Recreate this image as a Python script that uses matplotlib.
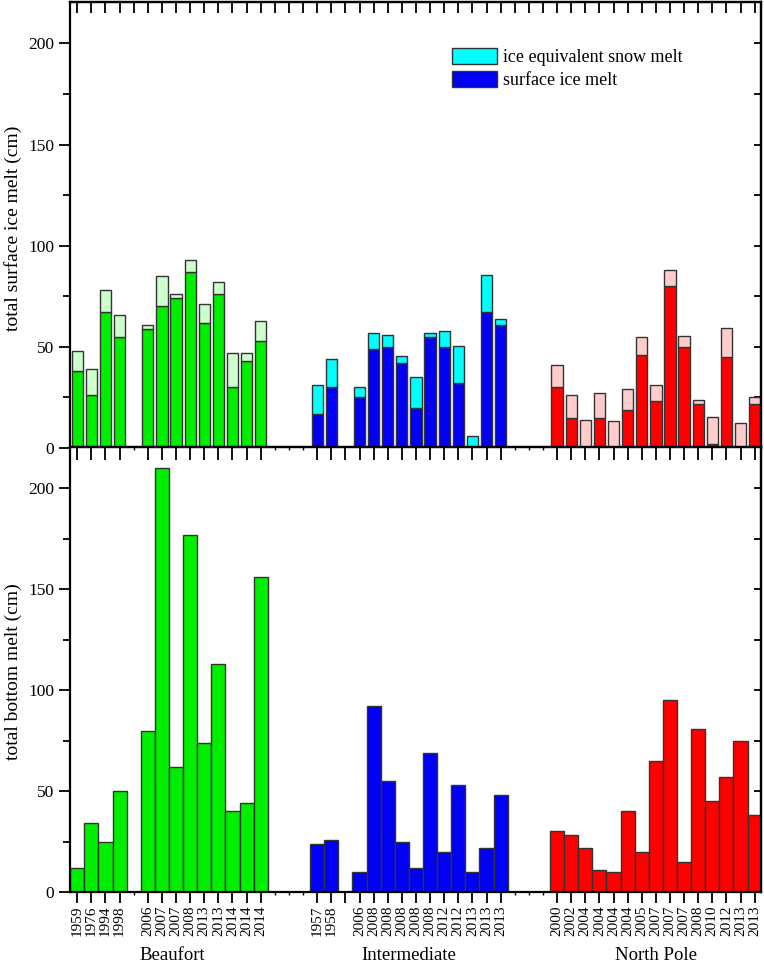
import matplotlib
matplotlib.use("Agg")
import matplotlib.pyplot as plt
from matplotlib.patches import Patch
import numpy as np

plt.rcParams['font.family'] = ['Liberation Serif', 'DejaVu Serif']

# ---------------- data ----------------
groups = ["Beaufort", "Intermediate", "North Pole"]

beaufort_years = ["1959", "1976", "1994", "1998", "2006", "2007", "2007", "2008",
                  "2013", "2013", "2014", "2014", "2014"]
beaufort_ice = [38, 26, 67, 55, 59, 70, 74, 87, 62, 76, 30, 43, 53]
beaufort_snow = [10, 13, 11, 11, 2, 15, 2, 6, 9, 6, 17, 4, 10]
beaufort_bottom = [12, 34, 25, 50, 80, 210, 62, 177, 74, 113, 40, 44, 156]

inter_years = ["1957", "1958", "2006", "2008", "2008", "2008", "2008", "2008",
               "2012", "2012", "2013", "2013", "2013"]
inter_ice = [17, 30, 25, 49, 50, 42, 20, 55, 50, 32, 0, 67, 61]
inter_snow = [14, 14, 5, 8, 6, 3.5, 15, 2, 8, 18.5, 6, 18.5, 3]
inter_bottom = [24, 26, 10, 92, 55, 25, 12, 69, 20, 53, 10, 22, 48]

np_years = ["2000", "2002", "2004", "2004", "2004", "2004", "2005", "2007",
            "2007", "2007", "2008", "2010", "2012", "2013", "2013"]
np_ice = [30, 15, 0, 15, 0, 19, 46, 23, 80, 50, 22, 2, 45, 0, 22]
np_snow = [11, 11, 14, 12, 13.5, 10, 9, 8, 8, 5.5, 1.5, 13.5, 14.5, 12.5, 3]
np_bottom = [30, 28, 22, 11, 10, 40, 20, 65, 95, 15, 81, 45, 57, 75, 38]

legend_labels = ["ice equivalent snow melt", "surface ice melt"]
ylabel_top = "total surface ice melt (cm)"
ylabel_bottom = "total bottom melt (cm)"

# ---------------- layout (slot positions along the category axis) ----------------
beaufort_pos = [0, 1, 2, 3] + list(range(5, 14))
inter_pos = [17, 18] + list(range(20, 31))
np_pos = list(range(34, 49))
blank_major = [19]
minor_gaps = [4, 14, 15, 16, 31, 32, 33]

colors = {
    "Beaufort": ("#00EE00", "#CCFFCC"),
    "Intermediate": ("#0000F5", "#00FFFF"),
    "North Pole": ("#FF0000", "#FFCCCC"),
}

series = [
    ("Beaufort", beaufort_pos, beaufort_years, beaufort_ice, beaufort_snow, beaufort_bottom),
    ("Intermediate", inter_pos, inter_years, inter_ice, inter_snow, inter_bottom),
    ("North Pole", np_pos, np_years, np_ice, np_snow, np_bottom),
]

W, H = 764, 966
fig = plt.figure(figsize=(W / 100, H / 100), dpi=100)
left = 69.5 / W
width = (761 - 69.5) / W
ax1 = fig.add_axes([left, 1 - 448 / H, width, 446 / H])
ax2 = fig.add_axes([left, 1 - 892 / H, width, 445 / H])

edge = "#333333"
for name, pos, yrs, ice, snow, bot in series:
    c_main, c_light = colors[name]
    ax1.bar(pos, ice, width=0.8, color=c_main, edgecolor=edge, linewidth=1.0, zorder=2)
    ax1.bar(pos, snow, width=0.8, bottom=ice, color=c_light, edgecolor=edge, linewidth=1.0, zorder=2)
    ax2.bar(pos, bot, width=1.0, color=c_main, edgecolor=edge, linewidth=1.0, zorder=2)

all_pos = beaufort_pos + inter_pos + np_pos
all_years = beaufort_years + inter_years + np_years
major_pos = sorted(all_pos + blank_major)
major_labels = [all_years[all_pos.index(p)] if p in all_pos else "" for p in major_pos]

for i, ax in enumerate((ax1, ax2)):
    ax.set_xlim(-0.55, 48.45)
    ax.set_ylim(0, 220.5)
    for s in ax.spines.values():
        s.set_linewidth(1.6)
    ax.set_yticks([0, 50, 100, 150, 200])
    ax.set_yticks([25, 75, 125, 175], minor=True)
    ax.tick_params(axis='y', which='major', direction='out', length=8, width=1.3,
                   labelsize=12.5, pad=3, right=False)
    ax.tick_params(axis='y', which='minor', direction='out', length=5, width=1.3, right=False)
    ax.set_xticks(major_pos)
    ax.set_xticks(minor_gaps, minor=True)
    ax.tick_params(axis='x', which='major', direction='out', length=8, width=1.3, top=False)
    ax.tick_params(axis='x', which='minor', direction='out', length=2, width=1.0, top=False)
    # right-hand inward ticks
    sy = ax.secondary_yaxis('right')
    sy.set_yticks([0, 25, 50, 75, 100, 125, 150, 175, 200])
    sy.tick_params(direction='in', length=5, width=1.3, labelright=False)
    sy.spines['right'].set_linewidth(1.6)
    # top inward ticks
    sx = ax.secondary_xaxis('top')
    if i == 0:
        sx.set_xticks(list(range(0, 49)))
        sx.tick_params(direction='in', length=8, width=1.3, labeltop=False)
    else:
        sx.set_xticks(major_pos)
        sx.set_xticks(minor_gaps, minor=True)
        sx.tick_params(which='major', direction='in', length=9, width=1.3, labeltop=False)
        sx.tick_params(which='minor', direction='in', length=2, width=1.0, labeltop=False)
    sx.spines['top'].set_linewidth(1.6)

ax1.set_xticklabels([])
ax1.tick_params(axis='x', which='both', bottom=False)
ax2.set_xticklabels(major_labels, rotation=90, fontsize=11)
ax2.tick_params(axis='x', which='major', pad=2)

fig.text(13 / W, 1 - 228 / H, ylabel_top, rotation=90, ha='center', va='center', fontsize=14)
fig.text(13 / W, 1 - 672 / H, ylabel_bottom, rotation=90, ha='center', va='center', fontsize=14)

group_centers = [6.7, 23.5, 41]
for g, xc in zip(groups, group_centers):
    ax2.text(xc, -(955 - 892) / 445, g, transform=ax2.get_xaxis_transform(),
             ha='center', va='center', fontsize=13.5)

handles = [Patch(facecolor=colors["Intermediate"][1], edgecolor=edge, linewidth=1.0),
           Patch(facecolor=colors["Intermediate"][0], edgecolor=edge, linewidth=1.0)]
fig.legend(handles, legend_labels, loc='upper left',
           bbox_to_anchor=(452 / W, 1 - 48 / H), bbox_transform=fig.transFigure,
           frameon=False, fontsize=13, handlelength=2.5, handleheight=0.95,
           handletextpad=0.35, labelspacing=0.3, borderpad=0, borderaxespad=0)

fig.savefig("out.png", dpi=100)
